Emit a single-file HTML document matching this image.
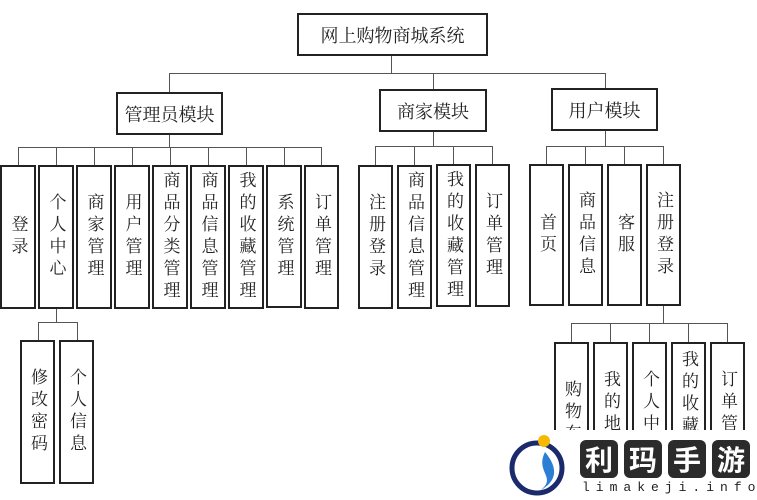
<!DOCTYPE html>
<html><head><meta charset="utf-8"><style>
body{margin:0;width:757px;height:500px;background:#fff;position:relative;overflow:hidden;font-family:"Liberation Serif","Noto Serif CJK SC",serif;color:#222}
.b{position:absolute;border:2px solid #222;box-sizing:border-box;display:flex;align-items:center;justify-content:center;background:#fff;overflow:hidden}
.v{writing-mode:vertical-rl;font-size:17px;line-height:1;letter-spacing:5px;white-space:nowrap}
.h{font-size:18px}
.l{position:absolute;background:#555}
</style></head><body>
<div class="l" style="left:391px;top:55px;width:1px;height:18px"></div>
<div class="l" style="left:169px;top:73px;width:437px;height:1px"></div>
<div class="l" style="left:169px;top:73px;width:1px;height:19px"></div>
<div class="l" style="left:433px;top:73px;width:1px;height:16px"></div>
<div class="l" style="left:605px;top:73px;width:1px;height:15px"></div>
<div class="l" style="left:169px;top:134px;width:1px;height:13px"></div>
<div class="l" style="left:18px;top:147px;width:304px;height:1px"></div>
<div class="l" style="left:433px;top:131px;width:1px;height:15px"></div>
<div class="l" style="left:375px;top:146px;width:118px;height:1px"></div>
<div class="l" style="left:605px;top:130px;width:1px;height:16px"></div>
<div class="l" style="left:546px;top:146px;width:118px;height:1px"></div>
<div class="l" style="left:56px;top:308px;width:1px;height:14px"></div>
<div class="l" style="left:38px;top:322px;width:40px;height:1px"></div>
<div class="l" style="left:38px;top:322px;width:1px;height:18px"></div>
<div class="l" style="left:77px;top:322px;width:1px;height:18px"></div>
<div class="l" style="left:663px;top:305px;width:1px;height:18px"></div>
<div class="l" style="left:571px;top:323px;width:157px;height:1px"></div>
<div class="l" style="left:18px;top:147px;width:1px;height:18px"></div>
<div class="l" style="left:56px;top:147px;width:1px;height:18px"></div>
<div class="l" style="left:94px;top:147px;width:1px;height:18px"></div>
<div class="l" style="left:132px;top:147px;width:1px;height:18px"></div>
<div class="l" style="left:170px;top:147px;width:1px;height:18px"></div>
<div class="l" style="left:208px;top:147px;width:1px;height:18px"></div>
<div class="l" style="left:246px;top:147px;width:1px;height:18px"></div>
<div class="l" style="left:284px;top:147px;width:1px;height:18px"></div>
<div class="l" style="left:321px;top:147px;width:1px;height:18px"></div>
<div class="l" style="left:375px;top:146px;width:1px;height:19px"></div>
<div class="l" style="left:414px;top:146px;width:1px;height:19px"></div>
<div class="l" style="left:453px;top:146px;width:1px;height:19px"></div>
<div class="l" style="left:492px;top:146px;width:1px;height:19px"></div>
<div class="l" style="left:546px;top:146px;width:1px;height:18px"></div>
<div class="l" style="left:585px;top:146px;width:1px;height:18px"></div>
<div class="l" style="left:624px;top:146px;width:1px;height:18px"></div>
<div class="l" style="left:663px;top:146px;width:1px;height:18px"></div>
<div class="l" style="left:571px;top:323px;width:1px;height:19px"></div>
<div class="l" style="left:610px;top:323px;width:1px;height:19px"></div>
<div class="l" style="left:649px;top:323px;width:1px;height:19px"></div>
<div class="l" style="left:688px;top:323px;width:1px;height:19px"></div>
<div class="l" style="left:727px;top:323px;width:1px;height:19px"></div>

<div class="b h" style="left:297px;top:13px;width:191px;height:43px">网上购物商城系统</div>
<div class="b h" style="left:116px;top:92px;width:107px;height:43px">管理员模块</div>
<div class="b h" style="left:379px;top:89px;width:108px;height:43px">商家模块</div>
<div class="b h" style="left:551px;top:88px;width:107px;height:43px">用户模块</div>

<div class="b" style="left:0px;top:165px;width:36px;height:144px"><span class="v">登录</span></div>
<div class="b" style="left:38px;top:165px;width:36px;height:144px"><span class="v">个人中心</span></div>
<div class="b" style="left:76px;top:165px;width:36px;height:144px"><span class="v">商家管理</span></div>
<div class="b" style="left:114px;top:165px;width:36px;height:144px"><span class="v">用户管理</span></div>
<div class="b" style="left:152px;top:165px;width:36px;height:144px"><span class="v">商品分类管理</span></div>
<div class="b" style="left:190px;top:165px;width:36px;height:144px"><span class="v">商品信息管理</span></div>
<div class="b" style="left:228px;top:165px;width:36px;height:144px"><span class="v">我的收藏管理</span></div>
<div class="b" style="left:266px;top:165px;width:36px;height:143px"><span class="v">系统管理</span></div>
<div class="b" style="left:304px;top:165px;width:35px;height:144px"><span class="v">订单管理</span></div>

<div class="b" style="left:358px;top:165px;width:35px;height:144px"><span class="v">注册登录</span></div>
<div class="b" style="left:397px;top:165px;width:35px;height:144px"><span class="v">商品信息管理</span></div>
<div class="b" style="left:436px;top:164px;width:35px;height:143px"><span class="v">我的收藏管理</span></div>
<div class="b" style="left:475px;top:164px;width:35px;height:143px"><span class="v">订单管理</span></div>

<div class="b" style="left:529px;top:164px;width:35px;height:142px"><span class="v">首页</span></div>
<div class="b" style="left:568px;top:164px;width:35px;height:142px"><span class="v">商品信息</span></div>
<div class="b" style="left:607px;top:164px;width:35px;height:142px"><span class="v">客服</span></div>
<div class="b" style="left:646px;top:164px;width:35px;height:142px"><span class="v">注册登录</span></div>

<div class="b" style="left:20px;top:340px;width:35px;height:144px"><span class="v">修改密码</span></div>
<div class="b" style="left:59px;top:340px;width:35px;height:144px"><span class="v">个人信息</span></div>

<div class="b" style="left:554px;top:342px;width:35px;height:144px;align-items:flex-start;padding-top:36px"><span class="v">购物车</span></div>
<div class="b" style="left:593px;top:342px;width:35px;height:144px;align-items:flex-start;padding-top:26px"><span class="v">我的地址</span></div>
<div class="b" style="left:632px;top:342px;width:35px;height:144px;align-items:flex-start;padding-top:26px"><span class="v">个人中心</span></div>
<div class="b" style="left:671px;top:342px;width:35px;height:144px;align-items:flex-start;padding-top:6px"><span class="v">我的收藏管理</span></div>
<div class="b" style="left:710px;top:342px;width:35px;height:144px;align-items:flex-start;padding-top:26px"><span class="v">订单管理</span></div>

<div style="position:absolute;left:500px;top:430px;width:257px;height:70px;background:#fff"></div>
<svg style="position:absolute;left:505px;top:432px" width="70" height="66">
<circle cx="32" cy="36" r="25" fill="none" stroke="#1a2a6c" stroke-width="5"/>
<circle cx="39" cy="9" r="6" fill="#f6b800"/>
<path d="M40 20 C30 40 52 45 36 58 C50 50 55 38 40 20Z" fill="#2a7fd4"/>
</svg>
<div style="position:absolute;left:580px;top:440px;display:flex;gap:6px">
<span style="background:#2b2b2b;color:#fff;font:bold 28px 'Noto Sans CJK SC',sans-serif;width:38px;height:38px;border-radius:6px;display:flex;align-items:center;justify-content:center">利</span>
<span style="background:#2b2b2b;color:#fff;font:bold 28px 'Noto Sans CJK SC',sans-serif;width:38px;height:38px;border-radius:6px;display:flex;align-items:center;justify-content:center">玛</span>
<span style="background:#2b2b2b;color:#fff;font:bold 28px 'Noto Sans CJK SC',sans-serif;width:38px;height:38px;border-radius:6px;display:flex;align-items:center;justify-content:center">手</span>
<span style="background:#2b2b2b;color:#fff;font:bold 28px 'Noto Sans CJK SC',sans-serif;width:38px;height:38px;border-radius:6px;display:flex;align-items:center;justify-content:center">游</span>
</div>
<div style="position:absolute;left:582px;top:480px;font:13px 'Liberation Mono',monospace;letter-spacing:6px;color:#222">limakeji.info</div>
</body></html>
